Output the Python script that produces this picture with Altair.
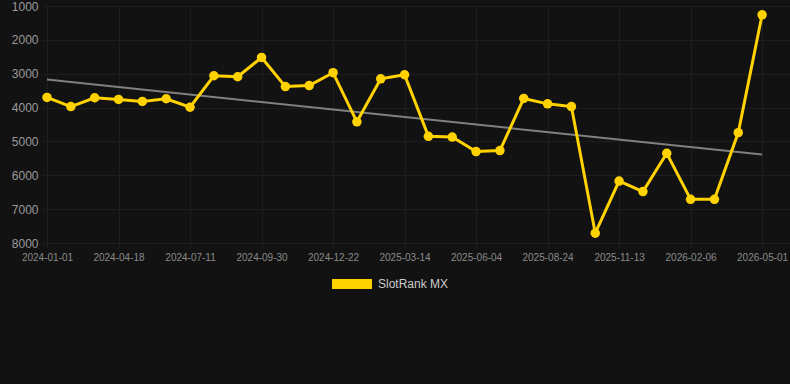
import altair as alt
import pandas as pd

# Rank values (lower is better; axis reversed), one per snapshot
ranks = [3700, 3970, 3710, 3760, 3820, 3740, 3990, 3060, 3090, 2520,
         3380, 3350, 2970, 4420, 3150, 3030, 4850, 4870, 5300, 5270,
         3730, 3890, 3970, 7710, 6170, 6480, 5350, 6710, 6710, 4740, 1260]
tick_labels = ["2024-01-01", "2024-04-18", "2024-07-11", "2024-09-30",
               "2024-12-22", "2025-03-14", "2025-06-04", "2025-08-24",
               "2025-11-13", "2026-02-06", "2026-05-01"]
series_name = "SlotRank MX"
y_ticks = [1000, 2000, 3000, 4000, 5000, 6000, 7000, 8000]

df = pd.DataFrame({
    "idx": list(range(len(ranks))),
    "rank": ranks,
    "series": [series_name] * len(ranks),
})

YELLOW = "#FFD200"
label_arr = "[" + ",".join(f"'{t}'" for t in tick_labels) + "]"

x_enc = alt.X(
    "idx:Q",
    scale=alt.Scale(domain=[-0.21, 31.17], nice=False, zero=False),
    axis=alt.Axis(
        values=list(range(0, len(ranks), 3)),
        labelExpr=f"{label_arr}[round(datum.value/3)]",
        title=None, grid=True, gridColor="#1e1e1e", domain=False,
        ticks=True, tickColor="#1e1e1e", tickSize=5,
        labelColor="#8a8a8a", labelFontSize=10, labelPadding=4,
        labelFont="Liberation Sans",
    ),
)
y_enc = alt.Y(
    "rank:Q",
    scale=alt.Scale(domain=[1000, 8000], reverse=True, nice=False, zero=False),
    axis=alt.Axis(
        values=y_ticks, format="d", title=None, grid=True, gridColor="#1e1e1e",
        domain=False, ticks=False, labelColor="#9a9a9a", labelFontSize=12,
        labelPadding=4, labelFont="Liberation Sans",
    ),
)

base = alt.Chart(df)

trend = base.transform_regression("idx", "rank").mark_line(
    color="#808080", strokeWidth=2
).encode(x=x_enc, y=y_enc)

line = base.mark_line(color=YELLOW, strokeWidth=3).encode(x=x_enc, y=y_enc)

points = base.mark_circle(size=90, opacity=1).encode(
    x=x_enc,
    y=y_enc,
    color=alt.Color(
        "series:N",
        scale=alt.Scale(range=[YELLOW]),
        legend=alt.Legend(
            title=None, orient="none", legendX=290, legendY=258,
            symbolType="M-1,-0.25L1,-0.25L1,0.25L-1,0.25Z", symbolSize=1600,
            symbolStrokeWidth=0, symbolOpacity=1,
            labelColor="#cccccc", labelFontSize=12, labelFont="Liberation Sans",
            padding=0, labelOffset=6,
        ),
    ),
)

chart = alt.layer(trend, line, points).properties(
    width=748, height=237,
    padding={"left": 42, "top": 6, "right": 0, "bottom": 141},
    autosize=alt.AutoSizeParams(type="none"),
    background="#121212",
).configure_view(stroke=None)

chart.save("out.html", embed_options={"renderer": "svg", "actions": False})
